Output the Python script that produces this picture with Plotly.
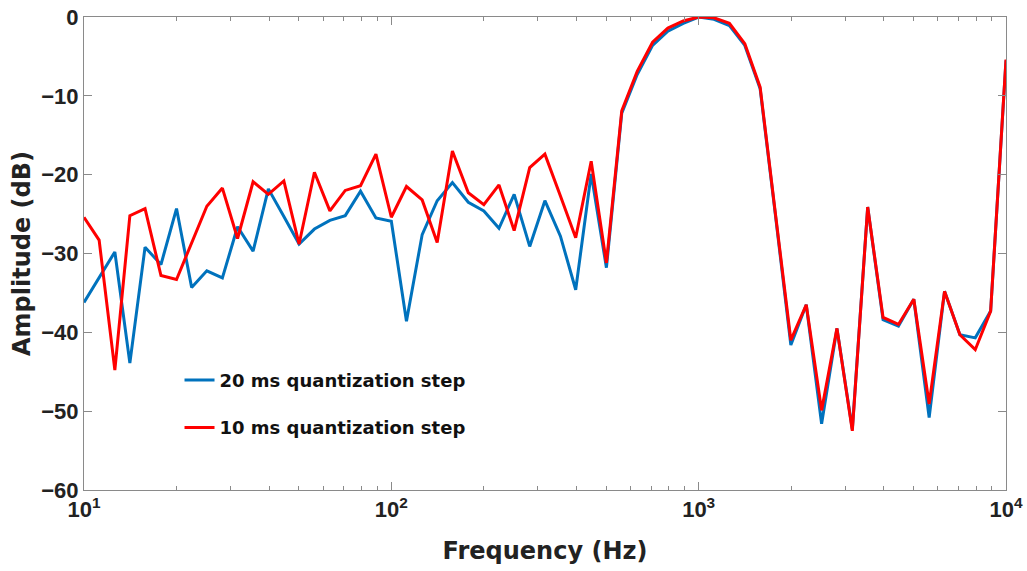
import plotly.graph_objects as go

freq_hz = [10, 11.2, 12.6, 14.1, 15.8, 17.8, 20, 22.4, 25.1, 28.2,
           31.6, 35.5, 39.8, 44.7, 50.1, 56.2, 63.1, 70.8, 79.4, 89.1,
           100, 112, 126, 141, 158, 178, 200, 224, 251, 282,
           316, 355, 398, 447, 501, 562, 631, 708, 794, 891,
           1000, 1122, 1259, 1413, 1585, 1778, 1995, 2239, 2512, 2818,
           3162, 3548, 3981, 4467, 5012, 5623, 6310, 7079, 7943, 8913,
           10000]

amp_20ms = [-36.2, -33.0, -29.8, -43.9, -29.2, -31.4, -24.3, -34.3, -32.2, -33.1,
            -26.6, -29.7, -21.8, -25.3, -28.8, -26.9, -25.8, -25.2, -22.1, -25.5,
            -25.9, -38.6, -27.6, -23.3, -21.0, -23.5, -24.6, -26.8, -22.5, -29.1,
            -23.3, -27.8, -34.6, -19.9, -31.8, -12.2, -7.3, -3.6, -1.8, -0.8,
            0.0, -0.3, -1.1, -3.6, -9.1, -25.2, -41.6, -36.5, -51.6, -39.5,
            -52.3, -24.1, -38.4, -39.2, -35.8, -50.8, -34.8, -40.3, -40.7, -37.3,
            -5.5]

amp_10ms = [-25.4, -28.3, -44.8, -25.2, -24.3, -32.8, -33.3, -28.6, -24.0, -21.7,
            -28.1, -20.9, -22.5, -20.8, -28.8, -19.7, -24.6, -22.0, -21.4, -17.4,
            -25.4, -21.5, -23.2, -28.6, -17.0, -22.3, -23.8, -21.3, -27.1, -19.1,
            -17.4, -22.7, -28.0, -18.3, -31.2, -11.9, -6.9, -3.2, -1.4, -0.5,
            0.0, -0.1, -0.8, -3.4, -8.9, -25.0, -41.0, -36.5, -49.9, -39.5,
            -52.5, -24.1, -38.1, -39.0, -35.8, -49.1, -34.8, -40.3, -42.2, -37.3,
            -5.4]

series_names = ["20 ms quantization step", "10 ms quantization step"]
series_colors = ["#0072BD", "#FF0000"]

x_tick_vals = [10, 100, 1000, 10000]
x_tick_text = ["10<sup>1</sup>", "10<sup>2</sup>", "10<sup>3</sup>", "10<sup>4</sup>"]
x_minor_vals = [m * d for d in (10, 100, 1000) for m in range(2, 10)]
y_tick_vals = [-60, -50, -40, -30, -20, -10, 0]

TICK_FONT = "Liberation Sans"
TITLE_FONT = "DejaVu Sans"
AXIS_GRAY = "#8a8a8a"
TEXT = "#222222"

fig = go.Figure()
for i, (vals, name, col) in enumerate(zip([amp_20ms, amp_10ms], series_names, series_colors)):
    fig.add_trace(go.Scatter(
        x=freq_hz, y=vals, mode="lines", name=name,
        line=dict(color=col, width=3), legendgroup=f"g{i}",
    ))

fig.update_layout(
    width=1027, height=571,
    margin=dict(l=84, r=21, t=17, b=81),
    plot_bgcolor="white", paper_bgcolor="white",
    font=dict(family=TICK_FONT, color=TEXT),
    showlegend=True,
    legend=dict(
        x=0.1036, y=0.271, xanchor="left", yanchor="top",
        bgcolor="rgba(0,0,0,0)", borderwidth=0,
        font=dict(family=TITLE_FONT, size=18, color="#111111", weight="bold"),
        itemwidth=30, tracegroupgap=21,
    ),
)

fig.update_xaxes(
    type="log", range=[1, 4], automargin=False, ticklabeloverflow="allow",
    tickmode="array", tickvals=x_tick_vals, ticktext=x_tick_text,
    ticks="inside", ticklen=8, tickcolor=AXIS_GRAY, tickwidth=1,
    minor=dict(tickmode="array", tickvals=x_minor_vals, ticks="inside",
               ticklen=4, tickcolor=AXIS_GRAY, tickwidth=1, showgrid=False),
    showline=True, linecolor=AXIS_GRAY, linewidth=1, mirror="ticks",
    showgrid=False, zeroline=False,
    tickfont=dict(family=TICK_FONT, size=22, color=TEXT, weight="bold"),
    title=dict(text="Frequency (Hz)", standoff=20,
               font=dict(family=TITLE_FONT, size=24, color=TEXT, weight="bold")),
)

fig.update_yaxes(
    range=[-60, 0], automargin=False, ticklabeloverflow="allow",
    tickmode="array", tickvals=y_tick_vals,
    ticks="inside", ticklen=8, tickcolor=AXIS_GRAY, tickwidth=1,
    showline=True, linecolor=AXIS_GRAY, linewidth=1, mirror="ticks",
    showgrid=False, zeroline=False,
    ticklabelstandoff=0,
    tickfont=dict(family=TICK_FONT, size=22, color=TEXT, weight="bold"),
    title=dict(text="Amplitude (dB)", standoff=3,
               font=dict(family=TITLE_FONT, size=24, color=TEXT, weight="bold")),
)

# remove the browser's default 8px page margin so the figure fills the window
fig.write_html("out.html", config={"displayModeBar": False},
               post_script="document.body.style.margin='0';")
